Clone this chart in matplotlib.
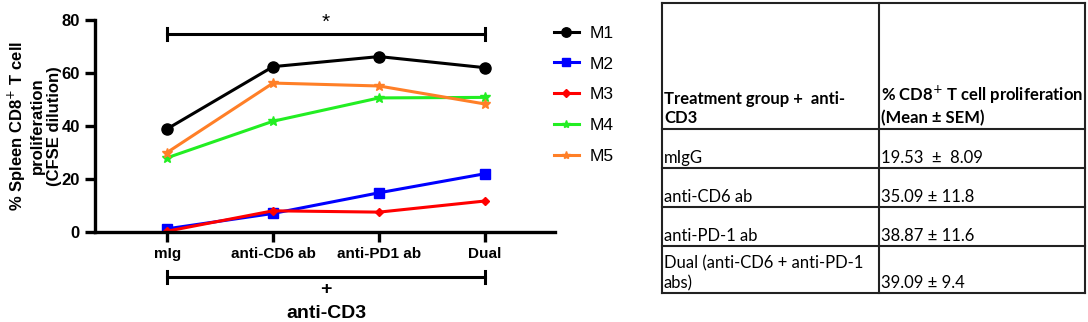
import numpy as np
import matplotlib
matplotlib.use("Agg")
import matplotlib.pyplot as plt

plt.rcParams['font.family'] = ['Liberation Sans', 'DejaVu Sans']

# groups on the x axis
groups = ['mIg', 'anti-CD6 ab', 'anti-PD1 ab', 'Dual']

# % spleen CD8+ T cell proliferation for each mouse
m1 = [38.9, 62.4, 66.2, 62.0]
m2 = [1.2, 7.0, 14.8, 22.0]
m3 = [0.3, 8.0, 7.5, 11.7]
m4 = [28.0, 41.8, 50.6, 50.8]
m5 = [30.0, 56.2, 55.1, 48.3]

series = [('M1', m1, 'black', 'o', 8),
          ('M2', m2, '#0000ff', 's', 7),
          ('M3', m3, '#ff0000', 'D', 4.5),
          ('M4', m4, '#22ee22', '*', 7),
          ('M5', m5, '#ff7f27', '*', 7)]

# table contents
tab_header = ['Treatment group +  anti-\nCD3', '% CD8$^{+}$ T cell proliferation\n(Mean \u00b1 SEM)']
tab_groups = ['mIgG', 'anti-CD6 ab', 'anti-PD-1 ab', 'Dual (anti-CD6 + anti-PD-1\nabs)']
tab_values = ['19.53  \u00b1  8.09', '35.09 \u00b1 11.8', '38.87 \u00b1 11.6', '39.09 \u00b1 9.4']

W, H = 1088, 322
fig = plt.figure(figsize=(W / 100, H / 100), dpi=100)

ax = fig.add_axes([95 / W, 1 - 232 / H, 460 / W, 212 / H])
x = np.arange(len(groups))
for name, vals, col, mk, ms in series:
    ax.plot(x, vals, color=col, marker=mk, markersize=ms, lw=2.2, label=name)

ax.set_xlim(-0.68, 3.66)
ax.set_ylim(0, 80)
ax.set_yticks([0, 20, 40, 60, 80])
ax.set_xticks(x)
ax.set_xticklabels(groups, fontweight='bold', fontsize=11)
for t in ax.get_yticklabels():
    t.set_fontweight('bold')
    t.set_fontsize(12)
for s in ['top', 'right']:
    ax.spines[s].set_visible(False)
for s in ['left', 'bottom']:
    ax.spines[s].set_linewidth(2.4)
ax.tick_params(width=2.4, length=7, pad=4)
ax.set_ylabel('% Spleen CD8$^{+}$ T cell\nproliferation\n(CFSE dilution)',
              fontweight='bold', fontsize=12, linespacing=1.15)
ax.yaxis.set_label_coords(-0.072, 0.5)

# significance bar
ax.plot([0, 3], [74.7, 74.7], color='black', lw=2.2, clip_on=False)
ax.plot([0, 0], [72.5, 77], color='black', lw=2.2, clip_on=False)
ax.plot([3, 3], [72.5, 77], color='black', lw=2.2, clip_on=False)
ax.text(1.5, 75.5, '*', ha='center', va='bottom', fontsize=15)

# + anti-CD3 bracket below
yb = -16.9
ax.plot([0, 3], [yb, yb], color='black', lw=2.2, clip_on=False)
ax.plot([0, 0], [yb - 2.2, yb + 2.2], color='black', lw=2.2, clip_on=False)
ax.plot([3, 3], [yb - 2.2, yb + 2.2], color='black', lw=2.2, clip_on=False)
ax.text(1.5, -21.8, '+', ha='center', va='center', fontsize=14, fontweight='bold')
ax.text(1.5, -30.8, 'anti-CD3', ha='center', va='center', fontsize=14, fontweight='bold')

ax.legend(loc='upper left', bbox_to_anchor=(538 / W, 1 - 10 / H), bbox_transform=fig.transFigure,
          frameon=False, fontsize=12.5, handlelength=1.45, labelspacing=0.9, handletextpad=0.6,
          markerscale=0.85)

# table drawn in pixel coordinates
tx = fig.add_axes([0, 0, 1, 1])
tx.set_xlim(0, W)
tx.set_ylim(H, 0)
tx.axis('off')
left, mid, right = 662, 879, 1085
row_lines = [3, 129, 168, 207, 246, 293]
for yy in row_lines:
    tx.plot([left, right], [yy, yy], color='#222222', lw=1.5)
for xx in [left, mid, right]:
    tx.plot([xx, xx], [row_lines[0], row_lines[-1]], color='#222222', lw=1.5)

tfont = ['Lato', 'DejaVu Sans']
tx.text(left + 2, 126, tab_header[0], ha='left', va='bottom', fontsize=12,
        fontweight='bold', family=tfont, linespacing=1.25)
tx.text(mid + 2, 126, tab_header[1], ha='left', va='bottom', fontsize=12,
        fontweight='bold', family=tfont, linespacing=1.25)
for i, (g, v) in enumerate(zip(tab_groups, tab_values)):
    yy = row_lines[i + 2] - 2
    tx.text(left + 2, yy, g, ha='left', va='bottom', fontsize=12, family=tfont, linespacing=1.25)
    tx.text(mid + 2, yy, v, ha='left', va='bottom', fontsize=12, family=tfont)

fig.savefig('out.png', dpi=100)
